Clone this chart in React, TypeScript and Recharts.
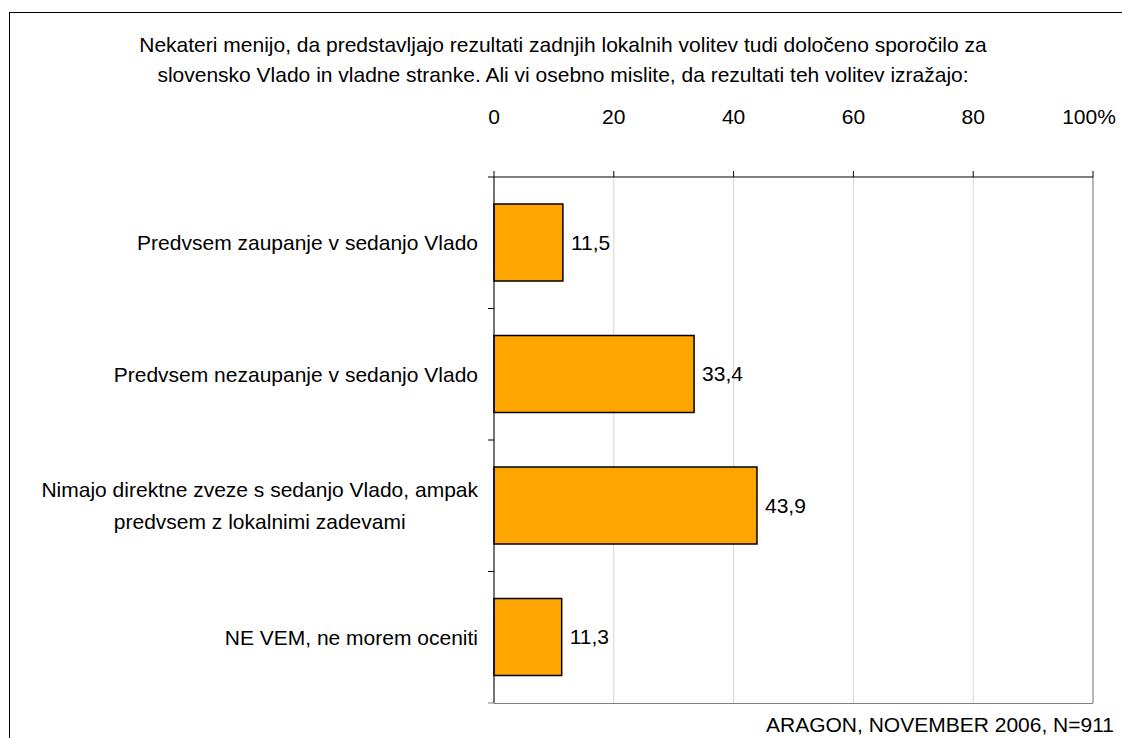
import { BarChart, Bar, XAxis, YAxis, CartesianGrid, LabelList, ReferenceLine } from 'recharts'

const categories = [
  'Predvsem zaupanje v sedanjo Vlado',
  'Predvsem nezaupanje v sedanjo Vlado',
  'Nimajo direktne zveze s sedanjo Vlado, ampak\npredvsem z lokalnimi zadevami',
  'NE VEM, ne morem oceniti',
]
const values = [11.5, 33.4, 43.9, 11.3]
const xTicks = [0, 20, 40, 60, 80, 100]

const titleLines = [
  'Nekateri menijo, da predstavljajo rezultati zadnjih lokalnih volitev tudi določeno sporočilo za',
  'slovensko Vlado in vladne stranke. Ali vi osebno mislite, da rezultati teh volitev izražajo:',
]
const source = 'ARAGON, NOVEMBER 2006, N=911'

const FONT = '"Liberation Sans", Arial, sans-serif'
const FS = 21
const W = 1122
const H = 738
const PLOT_LEFT = 494
const PLOT_RIGHT = 1093
const PLOT_TOP = 177
const PLOT_BOTTOM = 703
const Y_AXIS_W = 470
const X_AXIS_H = 60

const data = categories.map((name, i) => ({ name, value: values[i] }))
const band = (PLOT_BOTTOM - PLOT_TOP) / categories.length

let ctx: CanvasRenderingContext2D | null = null
function measure(t: string) {
  if (!ctx) ctx = document.createElement('canvas').getContext('2d')
  if (!ctx) return t.length * 10
  ctx.font = FS + 'px ' + FONT
  return ctx.measureText(t).width
}

function CatTick(props: any) {
  const { y, payload, index } = props
  const lines = String(payload.value).split('\n')
  const right = PLOT_LEFT - 16
  const maxW = Math.max(...lines.map(measure))
  const cx = right - maxW / 2
  const lh = 32
  const y0 = y - ((lines.length - 1) * lh) / 2
  return (
    <g>
      <line x1={PLOT_LEFT - 6} x2={PLOT_LEFT} y1={y - band / 2} y2={y - band / 2} stroke="#000" />
      {index === categories.length - 1 && (
        <line x1={PLOT_LEFT - 6} x2={PLOT_LEFT} y1={y + band / 2} y2={y + band / 2} stroke="#808080" />
      )}
      {lines.map((l, i) => (
        <text
          key={i}
          x={lines.length > 1 ? cx : right}
          y={y0 + i * lh}
          dy="0.35em"
          textAnchor={lines.length > 1 ? 'middle' : 'end'}
          fontSize={FS}
          fontFamily={FONT}
          fill="#000"
        >
          {l}
        </text>
      ))}
    </g>
  )
}

function PctTick(props: any) {
  const { x, payload } = props
  const v = payload.value
  return (
    <text
      x={v === 100 ? x - 4 : x}
      y={PLOT_TOP - 60}
      dy="0.35em"
      textAnchor="middle"
      fontSize={FS}
      fontFamily={FONT}
      fill="#000"
    >
      {v === 100 ? '100%' : String(v)}
    </text>
  )
}

export default function App() {
  return (
    <div
      style={{
        position: 'fixed',
        left: 0,
        top: 0,
        width: W,
        height: H,
        overflow: 'hidden',
        background: '#fff',
      }}
    >
      <div
        style={{
          position: 'absolute',
          left: 9,
          top: 12,
          width: 1130,
          height: 760,
          border: '1px solid #000',
          boxSizing: 'border-box',
        }}
      />
      <div
        style={{
          position: 'absolute',
          left: 2,
          top: 30,
          width: W,
          textAlign: 'center',
          fontFamily: FONT,
          fontSize: FS,
          lineHeight: '30px',
          color: '#000',
          whiteSpace: 'nowrap',
        }}
      >
        {titleLines.map((t, i) => (
          <div key={i}>{t}</div>
        ))}
      </div>
      <div
        style={{
          position: 'absolute',
          left: 0,
          width: 1114,
          textAlign: 'right',
          top: 713,
          fontFamily: FONT,
          fontSize: FS,
          lineHeight: '24px',
          color: '#000',
          whiteSpace: 'nowrap',
        }}
      >
        {source}
      </div>
      <div style={{ position: 'absolute', left: 0, top: 0 }}>
        <BarChart
          width={W}
          height={H}
          data={data}
          layout="vertical"
          margin={{
            left: PLOT_LEFT - Y_AXIS_W,
            right: W - PLOT_RIGHT,
            top: PLOT_TOP - X_AXIS_H,
            bottom: H - PLOT_BOTTOM,
          }}
          barSize={77}
        >
          <CartesianGrid horizontal={false} stroke="#d4d4d4" />
          <XAxis
            type="number"
            orientation="top"
            domain={[0, 100]}
            ticks={xTicks}
            height={X_AXIS_H}
            tickSize={6}
            tick={<PctTick />}
            axisLine={{ stroke: '#000' }}
            tickLine={{ stroke: '#000' }}
          />
          <YAxis
            type="category"
            dataKey="name"
            width={Y_AXIS_W}
            tick={<CatTick />}
            tickLine={false}
            axisLine={{ stroke: '#000' }}
            interval={0}
          />
          <ReferenceLine x={100} stroke="#808080" />
          <Bar dataKey="value" fill="#FFA500" stroke="#000" strokeWidth={1.5} isAnimationActive={false}>
            <LabelList
              dataKey="value"
              position="right"
              offset={8}
              formatter={(v: any) => String(v).replace('.', ',')}
              style={{ fontSize: FS, fontFamily: FONT, fill: '#000' }}
            />
          </Bar>
        </BarChart>
      </div>
      <div
        style={{
          position: 'absolute',
          left: PLOT_LEFT,
          top: PLOT_BOTTOM,
          width: PLOT_RIGHT - PLOT_LEFT,
          height: 0,
          borderTop: '1px solid #808080',
        }}
      />
    </div>
  )
}
